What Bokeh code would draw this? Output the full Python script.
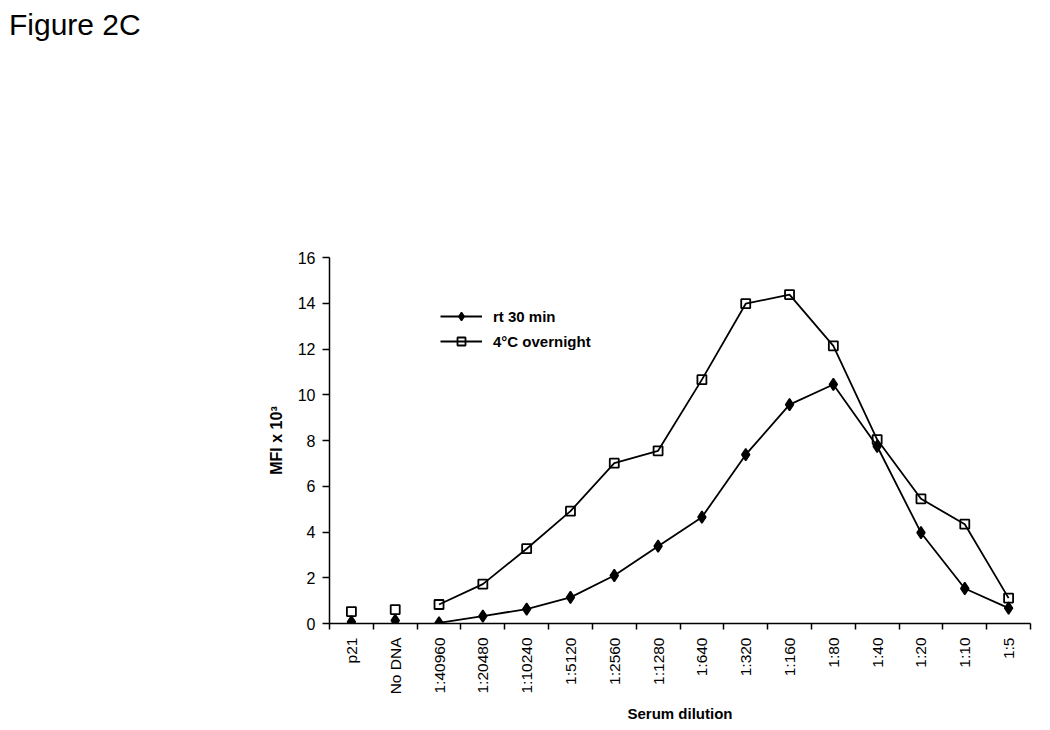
import math
from bokeh.plotting import figure
from bokeh.models import Range1d, FixedTicker, Div, Legend, LegendItem
from bokeh.layouts import column
from bokeh.embed import file_html
from bokeh.resources import INLINE

categories = ["p21", "No DNA", "1:40960", "1:20480", "1:10240", "1:5120", "1:2560",
              "1:1280", "1:640", "1:320", "1:160", "1:80", "1:40", "1:20", "1:10", "1:5"]
rt_30min = [0.07, 0.13, 0.03, 0.32, 0.63, 1.14, 2.1, 3.38, 4.65, 7.38, 9.57, 10.45,
            7.75, 3.97, 1.53, 0.67]
overnight_4c = [0.52, 0.61, 0.83, 1.72, 3.27, 4.91, 7.01, 7.55, 10.66, 13.98, 14.38,
                12.14, 8.04, 5.45, 4.34, 1.11]
y_ticks = [0, 2, 4, 6, 8, 10, 12, 14, 16]
first_connected = 2  # lines start at 1:40960

FONT = "Liberation Sans"

x = [i + 0.5 for i in range(len(categories))]

p = figure(width=1040, height=686, output_backend="svg", toolbar_location=None,
           x_range=Range1d(0, len(categories)), y_range=Range1d(0, 16),
           min_border_left=329, min_border_right=10, min_border_top=213,
           min_border_bottom=107)
p.outline_line_color = None
p.grid.visible = False
p.background_fill_color = "white"
p.border_fill_color = "white"

# x axis: labels at category centres, ticks at category boundaries
xa = p.xaxis[0]
xa.ticker = FixedTicker(ticks=x, minor_ticks=list(range(len(categories) + 1)))
xa.major_label_overrides = {xi: c for xi, c in zip(x, categories)}
xa.major_label_orientation = math.pi / 2
xa.major_tick_out = 0
xa.major_tick_in = 0
xa.minor_tick_out = 6
xa.minor_tick_in = 0
xa.minor_tick_line_color = "black"
xa.minor_tick_line_width = 1.5
xa.axis_line_color = "black"
xa.axis_line_width = 1.5
xa.major_label_standoff = 8
xa.major_label_text_font = FONT
xa.major_label_text_font_size = "15.5px"
xa.major_label_text_color = "black"
xa.axis_label = "Serum dilution"
xa.axis_label_text_font = FONT
xa.axis_label_text_font_size = "15px"
xa.axis_label_text_font_style = "bold"
xa.axis_label_text_color = "black"
xa.axis_label_standoff = 8

ya = p.yaxis[0]
ya.ticker = FixedTicker(ticks=y_ticks, minor_ticks=[])
ya.major_tick_out = 7
ya.major_tick_in = 0
ya.major_tick_line_color = "black"
ya.major_tick_line_width = 1.5
ya.axis_line_color = "black"
ya.axis_line_width = 1.5
ya.major_label_standoff = 7
ya.major_label_text_font = FONT
ya.major_label_text_font_size = "16px"
ya.major_label_text_color = "black"
ya.axis_label = "MFI x 10³"
ya.axis_label_text_font = FONT
ya.axis_label_text_font_size = "16px"
ya.axis_label_text_font_style = "bold"
ya.axis_label_text_color = "black"
ya.axis_label_standoff = 10

k = first_connected
l1 = p.line(x[k:], rt_30min[k:], line_color="black", line_width=1.8)
s1 = p.scatter(x, rt_30min, marker="diamond", size=12, fill_color="black",
               line_color="black", line_width=1.5)
l2 = p.line(x[k:], overnight_4c[k:], line_color="black", line_width=1.8)
s2 = p.scatter(x, overnight_4c, marker="square", size=9, fill_color=None,
               line_color="black", line_width=1.8)

legend = Legend(items=[LegendItem(label="rt 30 min", renderers=[l1, s1]),
                       LegendItem(label="4°C overnight", renderers=[l2, s2])],
                location=(111, 272))
legend.padding = 0
legend.margin = 0
legend.spacing = 5
legend.glyph_width = 42
legend.glyph_height = 20
legend.label_height = 20
legend.label_standoff = 11
legend.border_line_color = None
legend.background_fill_alpha = 0
legend.label_text_font = FONT
legend.label_text_font_size = "15px"
legend.label_text_font_style = "bold"
legend.label_text_color = "black"
p.add_layout(legend, "center")

title = Div(text="Figure 2C", width=1040, height=44,
            styles={"font-family": FONT, "font-size": "30px", "color": "black",
                    "line-height": "normal", "margin": "0",
                    "padding-top": "8px", "padding-left": "9px"})

layout = column(title, p, spacing=0)
open("out.html", "w").write(file_html(layout, INLINE))
